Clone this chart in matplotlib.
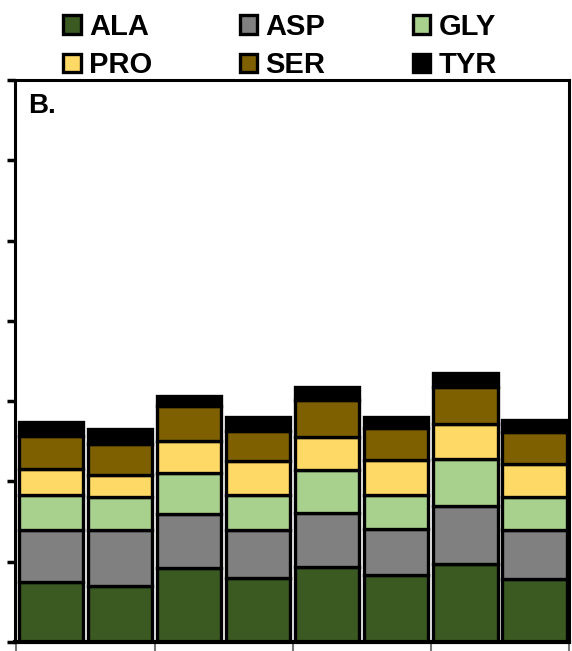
import matplotlib
matplotlib.use("Agg")
import matplotlib.pyplot as plt
import numpy as np

plt.rcParams['font.family'] = ['Liberation Sans', 'DejaVu Sans']

categories = ["1", "2", "3", "4", "5", "6", "7", "8"]
series_names = ["ALA", "ASP", "GLY", "PRO", "SER", "TYR"]
colors = ["#3a5a22", "#808080", "#a9d18e", "#ffd966", "#7f6000", "#000000"]

ALA = [0.75, 0.70, 0.92, 0.80, 0.94, 0.83, 0.97, 0.78]
ASP = [0.65, 0.69, 0.67, 0.59, 0.67, 0.58, 0.72, 0.61]
GLY = [0.43, 0.41, 0.52, 0.44, 0.53, 0.42, 0.59, 0.41]
PRO = [0.33, 0.28, 0.39, 0.42, 0.41, 0.44, 0.44, 0.42]
SER = [0.41, 0.39, 0.44, 0.38, 0.47, 0.39, 0.45, 0.39]
TYR = [0.17, 0.18, 0.13, 0.17, 0.16, 0.14, 0.18, 0.15]
series = [ALA, ASP, GLY, PRO, SER, TYR]

fig = plt.figure(figsize=(5.72, 6.51), dpi=100)
ax = fig.add_axes([15/572, 1 - 642/651, (569 - 15)/572, (642 - 80)/651])

x = np.arange(len(categories))
bottom = np.zeros(len(categories))
handles = []
for name, vals, c in zip(series_names, series, colors):
    h = ax.bar(x, vals, width=0.93, bottom=bottom, color=c, edgecolor="black",
               linewidth=2.4, label=name)
    handles.append(h)
    bottom += np.array(vals)

ax.set_xlim(-0.52, 7.5)
ax.set_ylim(0, 7)
ax.set_yticks(np.arange(0, 8, 1))
ax.set_xticks(np.arange(-0.5, 8, 2))
ax.set_yticklabels([])
ax.set_xticklabels([])
ax.tick_params(axis='y', direction='out', length=6, width=2.5)
ax.tick_params(axis='x', direction='out', length=7, width=1.5, colors="#777777")
for s in ax.spines.values():
    s.set_linewidth(2.2)
ax.spines['bottom'].set_linewidth(3)

ax.text(0.024, 0.976, "B.", transform=ax.transAxes, fontsize=20,
        fontweight='bold', va='top', ha='left')

# row-major order for a 2x3 legend
order = [0, 3, 1, 4, 2, 5]
fig.legend([handles[i] for i in order], [series_names[i] for i in order],
           loc='upper left', bbox_to_anchor=(0.09, 0.998), ncol=3,
           frameon=False, prop={'weight': 'bold', 'size': 21},
           handlelength=0.6, handleheight=0.6, handletextpad=0.28,
           columnspacing=3.0, labelspacing=0.36, borderaxespad=0)

fig.savefig("out.png", dpi=100)
